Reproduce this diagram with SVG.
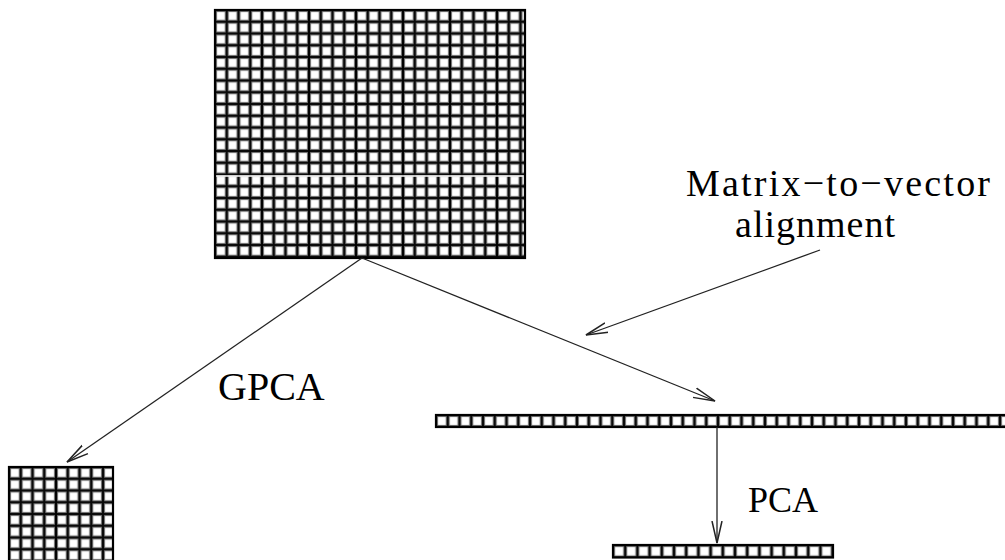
<svg xmlns="http://www.w3.org/2000/svg" width="1005" height="560" viewBox="0 0 1005 560">
<style>
.lbl{font-family:"Liberation Serif","Times New Roman",serif;font-size:40px;fill:#000}
.conn{stroke:#222;stroke-width:1.3;fill:none}
.frame{fill:none;stroke:#000;stroke-width:2.2}
.grp{stroke:#000;stroke-width:1.4}
</style>
<defs>
<pattern id="cellA" patternUnits="userSpaceOnUse" x="215" y="10" width="11.75" height="11.75">
<rect width="11.75" height="11.75" fill="#0a0a0a"/>
<rect x="1.1" y="1.1" width="9.55" height="9.55" fill="#808080"/>
<rect x="2.1" y="2.1" width="7.55" height="7.55" fill="#fff"/>
</pattern>
<pattern id="cellB" patternUnits="userSpaceOnUse" x="9" y="467" width="11.75" height="11.75">
<rect width="11.75" height="11.75" fill="#0a0a0a"/>
<rect x="1.1" y="1.1" width="9.55" height="9.55" fill="#808080"/>
<rect x="2.1" y="2.1" width="7.55" height="7.55" fill="#fff"/>
</pattern>
<pattern id="cellC" patternUnits="userSpaceOnUse" x="436" y="415" width="11.75" height="12">
<rect width="11.75" height="12" fill="#0a0a0a"/>
<rect x="1.1" y="1.1" width="9.55" height="9.8" fill="#808080"/>
<rect x="2.1" y="2.1" width="7.55" height="7.8" fill="#fff"/>
</pattern>
<pattern id="cellD" patternUnits="userSpaceOnUse" x="613" y="545" width="12.2" height="12.5">
<rect width="12.2" height="12.5" fill="#0a0a0a"/>
<rect x="1.1" y="1.1" width="10" height="10.3" fill="#808080"/>
<rect x="2.1" y="2.1" width="8" height="8.3" fill="#fff"/>
</pattern>
<marker id="vhead" markerUnits="userSpaceOnUse" markerWidth="26" markerHeight="14" refX="22" refY="6" orient="auto" viewBox="0 0 26 12">
<path d="M0,1 L22,6 L0,11" fill="none" stroke="#222" stroke-width="1.5"/>
</marker>
</defs>

<g id="matrix-large">
<rect x="215" y="10" width="310" height="248" fill="url(#cellA)"/>
<g class="grp">
<line x1="262" y1="10" x2="262" y2="258"/>
<line x1="309" y1="10" x2="309" y2="258"/>
<line x1="356" y1="10" x2="356" y2="258"/>
<line x1="403" y1="10" x2="403" y2="258"/>
<line x1="450" y1="10" x2="450" y2="258"/>
<line x1="497" y1="10" x2="497" y2="258"/>
</g>
<line x1="215" y1="176" x2="525" y2="176" stroke="#fff" stroke-width="1.5"/>
<rect x="215" y="10" width="310" height="248" class="frame"/>
</g>

<g id="matrix-small">
<rect x="9" y="467" width="104" height="100" fill="url(#cellB)"/>
<line x1="56" y1="467" x2="56" y2="560" class="grp"/>
<rect x="9" y="467" width="104" height="100" class="frame"/>
</g>

<g id="vector-long">
<rect x="436" y="415" width="580" height="12" fill="url(#cellC)"/>
<rect x="436" y="415" width="580" height="12" class="frame"/>
</g>

<g id="vector-short">
<rect x="613" y="545" width="220" height="12.5" fill="url(#cellD)"/>
<rect x="613" y="545" width="220" height="12.5" class="frame"/>
</g>

<g id="connectors">
<line x1="362" y1="258" x2="67" y2="462" class="conn" marker-end="url(#vhead)"/>
<line x1="362" y1="258" x2="715" y2="401" class="conn" marker-end="url(#vhead)"/>
<line x1="820" y1="250" x2="586" y2="335" class="conn" marker-end="url(#vhead)"/>
<line x1="717" y1="427" x2="717" y2="543" class="conn" marker-end="url(#vhead)"/>
</g>

<g id="labels">
<text x="218" y="400" class="lbl">GPCA</text>
<text x="686" y="196" class="lbl" style="font-size:38px" textLength="304" lengthAdjust="spacing">Matrix−to−vector</text>
<text x="735" y="237" class="lbl" style="font-size:38px" textLength="160" lengthAdjust="spacing">alignment</text>
<text x="748" y="512" class="lbl" style="font-size:36px">PCA</text>
</g>
</svg>
